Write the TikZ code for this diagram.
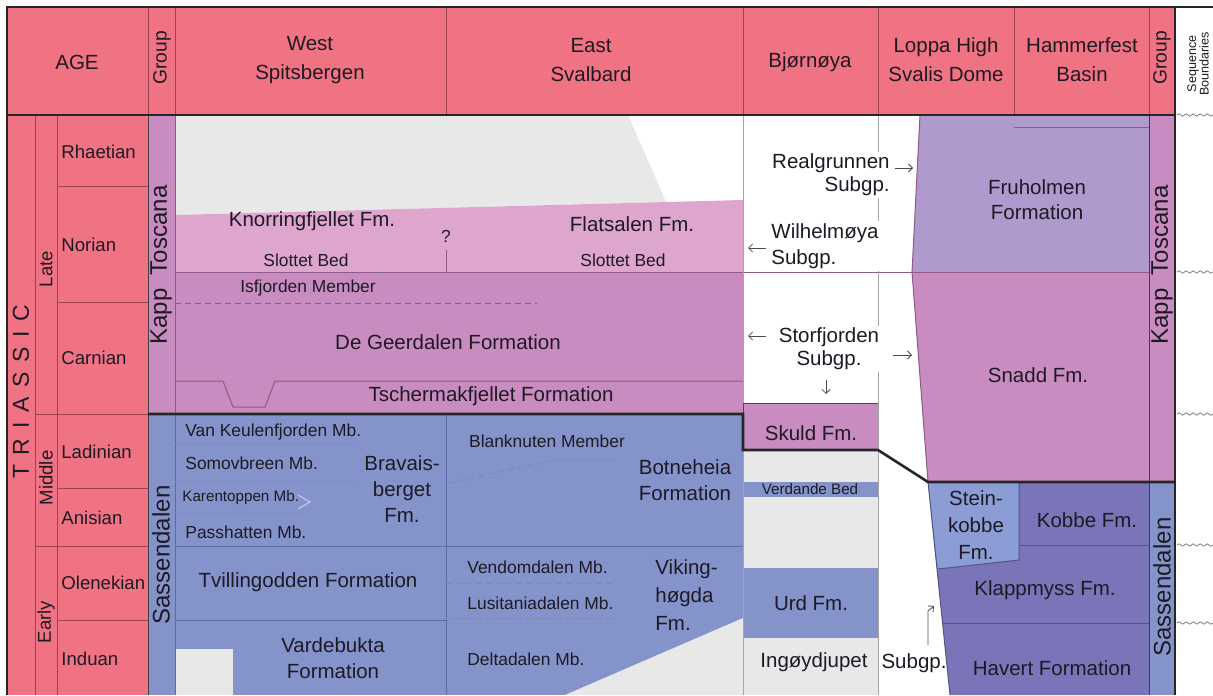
\documentclass[tikz,border=0pt]{standalone}
\usepackage{fontspec}
\setmainfont{Liberation Sans}
\usetikzlibrary{arrows.meta,decorations.pathmorphing}

\definecolor{agepink}{HTML}{F07384}
\definecolor{kapppurple}{HTML}{C98CC1}
\definecolor{norianpink}{HTML}{DEA5CD}
\definecolor{fruhlilac}{HTML}{B09ACD}
\definecolor{sassblue}{HTML}{8593CB}
\definecolor{kobbeblue}{HTML}{7A74B9}
\definecolor{steinblue}{HTML}{8C9DD5}
\definecolor{gapgrey}{HTML}{E8E8E8}
\definecolor{inktext}{HTML}{1E1A24}
\definecolor{agerule}{HTML}{9A4452}
\definecolor{kapprule}{HTML}{8E5A88}
\definecolor{sassrule}{HTML}{5E6AA6}

\tikzset{
	hdr/.style={font=\fontsize{10.25}{14.5}\selectfont, text=inktext, align=center, inner sep=0pt},
	fm/.style={font=\fontsize{10.25}{13}\selectfont, text=inktext, align=center, inner sep=0pt},
	stage/.style={font=\fontsize{9.3}{11}\selectfont, text=inktext, anchor=west, inner sep=0pt},
	mbr/.style={font=\fontsize{8.7}{11}\selectfont, text=inktext, inner sep=0pt},
	grp/.style={font=\fontsize{12}{14}\selectfont, text=inktext, rotate=90, inner sep=0pt},
	series/.style={font=\fontsize{9.3}{11}\selectfont, text=inktext, rotate=90, inner sep=0pt},
	cellrule/.style={line width=0.5pt},
	boundary/.style={line width=1.3pt, draw=black!85},
	mbrdash/.style={line width=0.5pt, dash pattern=on 3pt off 2pt},
	subarrow/.style={line width=0.4pt, draw=black!70, -{Straight Barb[length=2pt,width=4pt]}},
	seqline/.style={draw=black!50, line width=0.4pt, decorate, decoration={snake, amplitude=0.6pt, segment length=3.5pt}},
}

\begin{document}
\begin{tikzpicture}[x=0.5pt, y=-0.5pt]
	\useasboundingbox (0,0) rectangle (1213,695);

	% Header row and age columns
	\fill[agepink] (7,7) rectangle (1175,115);
	\fill[agepink] (7,115) rectangle (148,695);

	% Group columns
	\fill[kapppurple] (148,115) rectangle (175,414);
	\fill[sassblue] (148,414) rectangle (175,695);
	\fill[kapppurple] (1149,115) rectangle (1175,482);
	\fill[sassblue] (1149,482) rectangle (1175,695);

	% West Spitsbergen and East Svalbard
	\fill[gapgrey] (175,115) -- (628,115) -- (666,202) -- (175,215) -- cycle;
	\fill[norianpink] (175,215) -- (743,200) -- (743,272) -- (175,272) -- cycle;
	\fill[kapppurple] (175,272) rectangle (743,414);
	\fill[sassblue] (175,414) rectangle (743,695);
	\fill[gapgrey] (176,649) rectangle (233,695);
	\fill[gapgrey] (565,695) -- (743,618) -- (743,695) -- cycle;

	% Bjornoya
	\fill[kapppurple] (743,403) rectangle (878,450);
	\fill[gapgrey] (743,450) rectangle (878,695);
	\fill[sassblue] (743,482) rectangle (878,497);
	\fill[sassblue] (743,568) rectangle (878,638);

	% Loppa High and Hammerfest Basin
	\fill[fruhlilac] (920,115) -- (1149,115) -- (1149,272) -- (912,272) -- cycle;
	\fill[kapppurple] (912,272) -- (1149,272) -- (1149,482) -- (928,482) -- cycle;
	\fill[kobbeblue] (928,482) -- (1149,482) -- (1149,695) -- (950,695) -- cycle;
	\fill[steinblue] (928,482) -- (1019,482) -- (1019,560) -- (938,569) -- cycle;

	% Rules in the header
	\draw[cellrule, agerule] (148,7) -- (148,115);
	\draw[cellrule, agerule] (175,7) -- (175,115);
	\draw[cellrule, agerule] (446,7) -- (446,115);
	\draw[cellrule, agerule] (743,7) -- (743,115);
	\draw[cellrule, agerule] (878,7) -- (878,115);
	\draw[cellrule, agerule] (1014,7) -- (1014,115);
	\draw[cellrule, agerule] (1149,7) -- (1149,115);

	% Rules in the age columns
	\draw[cellrule, agerule] (35,115) -- (35,695);
	\draw[cellrule, agerule] (57,115) -- (57,695);
	\draw[cellrule, agerule] (57,187) -- (148,187);
	\draw[cellrule, agerule] (57,302) -- (148,302);
	\draw[cellrule, agerule] (35,414) -- (148,414);
	\draw[cellrule, agerule] (57,488) -- (148,488);
	\draw[cellrule, agerule] (35,546) -- (148,546);
	\draw[cellrule, agerule] (57,620) -- (148,620);
	\draw[cellrule, black!75] (148,115) -- (148,695);
	\draw[cellrule, kapprule] (175,115) -- (175,414);
	\draw[cellrule, sassrule] (175,414) -- (175,695);

	% Kapp Toscana rules
	\draw[cellrule, kapprule] (175,272) -- (1149,272);
	\draw[cellrule, kapprule] (446,250) -- (446,272);
	\draw[mbrdash, kapprule] (175,303) -- (537,303);
	\draw[cellrule, kapprule] (175,381) -- (223,381) -- (233,407) -- (265,407) -- (275,381) -- (743,381);
	\draw[cellrule, black!70] (743,403) -- (878,403);
	\draw[cellrule, black!70] (743,403) -- (743,414);

	% Sassendalen rules
	\draw[cellrule, sassrule] (446,414) -- (446,695);
	\draw[cellrule, sassrule] (175,546) -- (743,546);
	\draw[cellrule, sassrule] (175,620) -- (446,620);
	\draw[mbrdash, sassrule!80] (175,443) -- (358,443);
	\draw[mbrdash, sassrule!80] (175,481) -- (355,481);
	\draw[mbrdash, sassrule!80] (175,513) -- (300,513);
	\draw[cellrule, white!55!sassblue] (298,495) -- (310,502) -- (298,509);
	\draw[mbrdash, sassrule!80] (449,483) -- (555,460) -- (612,460);
	\draw[mbrdash, sassrule!80] (446,583) -- (613,583);
	\draw[mbrdash, sassrule!80] (446,618) -- (615,618);

	% Column rules in Bjornoya, Loppa High and Hammerfest Basin
	\draw[cellrule, black!35] (743,115) -- (743,403);
	\draw[cellrule, black!35] (743,450) -- (743,695);
	\draw[cellrule, black!35] (878,115) -- (878,695);
	\draw[cellrule, kapprule] (920,115) -- (912,272) -- (928,482);
	\draw[cellrule, kobbeblue!70!black] (928,482) -- (950,695);
	\draw[cellrule, kapprule] (1014,128) -- (1149,128);
	\draw[cellrule, kobbeblue!70!black] (1019,482) -- (1019,560) -- (938,569);
	\draw[cellrule, kobbeblue!70!black] (1019,545) -- (1149,545);
	\draw[cellrule, kobbeblue!70!black] (942,623) -- (1149,623);
	\draw[cellrule, black!75] (1149,115) -- (1149,695);

	% Base of Kapp Toscana
	\draw[boundary] (148,414) -- (743,414) -- (743,450) -- (878,450) -- (928,482) -- (1175,482);

	% Frame
	\draw[line width=1pt, black!85] (7,695) -- (7,7) -- (1213,7);
	\draw[line width=1pt, black!85] (1175,7) -- (1175,695);
	\draw[line width=1pt, black!85] (7,115) -- (1175,115);

	% Sequence boundaries
	\draw[seqline] (1177,115) -- (1213,115);
	\draw[seqline] (1177,272) -- (1213,272);
	\draw[seqline] (1177,414) -- (1213,414);
	\draw[seqline] (1177,545) -- (1213,545);
	\draw[seqline] (1177,623) -- (1213,623);

	% Header labels
	\node[hdr] (age) at (77,62) {AGE};
	\node[hdr, rotate=90, font=\fontsize{9.6}{11}\selectfont] (groupL) at (162,58) {Group};
	\node[hdr] (westspits) at (310,60) {West\\Spitsbergen};
	\node[hdr] (eastsval) at (591,60) {East\\Svalbard};
	\node[hdr] (bjornoya) at (810,62) {Bjørnøya};
	\node[hdr] (loppa) at (946,60) {Loppa High\\Svalis Dome};
	\node[hdr] (hammerfest) at (1082,60) {Hammerfest\\Basin};
	\node[hdr, rotate=90, font=\fontsize{9.6}{11}\selectfont] (groupR) at (1162,58) {Group};
	\node[hdr, rotate=90, font=\fontsize{6.3}{6.3}\selectfont] (seqb) at (1198,64) {Sequence\\Boundaries};

	% Age labels
	\node[grp, font=\fontsize{11.5}{13}\selectfont] (triassic) at (21,392) {T\kern.42em R\kern.42em I\kern.42em A\kern.42em S\kern.42em S\kern.42em I\kern.42em C};
	\node[series] (late) at (46,269) {Late};
	\node[series] (middle) at (46,478) {Middle};
	\node[series] (early) at (46,622) {Early};
	\node[stage] (rhaetian) at (61,152) {Rhaetian};
	\node[stage] (norian) at (61,245) {Norian};
	\node[stage] (carnian) at (61,358) {Carnian};
	\node[stage] (ladinian) at (61,452) {Ladinian};
	\node[stage] (anisian) at (61,518) {Anisian};
	\node[stage] (olenekian) at (61,583) {Olenekian};
	\node[stage] (induan) at (61,659) {Induan};

	% Group labels
	\node[grp] (kappL) at (161,265) {Kapp\ \ Toscana};
	\node[grp] (sassL) at (161,555) {Sassendalen};
	\node[grp] (kappR) at (1162,265) {Kapp\ \ Toscana};
	\node[grp] (sassR) at (1162,587) {Sassendalen};

	% West Spitsbergen and East Svalbard labels
	\node[fm] (knorring) at (312,221) {Knorringfjellet Fm.};
	\node[mbr] (query) at (446,236) {?};
	\node[fm] (flatsalen) at (632,224) {Flatsalen Fm.};
	\node[mbr] (slottetW) at (306,260) {Slottet Bed};
	\node[mbr] (slottetE) at (623,260) {Slottet Bed};
	\node[mbr] (isfjorden) at (308,288) {Isfjorden Member};
	\node[fm] (degeer) at (448,342) {De Geerdalen Formation};
	\node[fm] (tscherm) at (491,396) {Tschermakfjellet Formation};
	\node[mbr, anchor=west] (vankeul) at (185,432) {Van Keulenfjorden Mb.};
	\node[mbr, anchor=west] (somov) at (185,463) {Somovbreen Mb.};
	\node[mbr, anchor=west, font=\fontsize{7.6}{9}\selectfont] (karen) at (182,498) {Karentoppen Mb.};
	\node[mbr, anchor=west] (passh) at (185,532) {Passhatten Mb.};
	\node[fm] (bravais) at (402,489) {Bravais-\\berget\\Fm.};
	\node[fm] (tvilling) at (308,582) {Tvillingodden Formation};
	\node[fm] (vardeb) at (333,658) {Vardebukta\\Formation};
	\node[mbr] (blank) at (547,441) {Blanknuten Member};
	\node[fm] (botneh) at (685,480) {Botneheia\\Formation};
	\node[mbr, anchor=west] (vendom) at (467,567) {Vendomdalen Mb.};
	\node[mbr, anchor=west] (lusit) at (467,603) {Lusitaniadalen Mb.};
	\node[mbr, anchor=west] (deltad) at (467,659) {Deltadalen Mb.};
	\node[fm, anchor=west, align=left, font=\fontsize{10.25}{14}\selectfont] (vikingh) at (655,595) {Viking-\\høgda\\Fm.};

	% Bjornoya labels
	\node[fm, anchor=east, align=right, fill=white, inner sep=1pt, font=\fontsize{10.25}{11.5}\selectfont] (realg) at (892,175) {Realgrunnen\\Subgp.};
	\node[fm, anchor=west, align=left, fill=white, inner sep=1pt, font=\fontsize{10.25}{13}\selectfont] (wilhelm) at (769,246) {Wilhelmøya\\Subgp.};
	\node[fm, fill=white, inner sep=1pt, font=\fontsize{10.25}{11.5}\selectfont] (storf) at (829,349) {Storfjorden\\Subgp.};
	\node[fm] (skuld) at (811,433) {Skuld Fm.};
	\node[mbr, font=\fontsize{7.6}{9}\selectfont] (verdande) at (810,489) {Verdande Bed};
	\node[fm] (urd) at (811,603) {Urd Fm.};
	\node[fm] (ingoy) at (814,662) {Ingøydjupet};
	\node[fm] (ingoysub) at (914,663) {Subgp.};

	% Loppa High and Hammerfest Basin labels
	\node[fm, font=\fontsize{10.25}{12.5}\selectfont] (fruholmen) at (1037,200) {Fruholmen\\Formation};
	\node[fm] (snadd) at (1038,375) {Snadd Fm.};
	\node[fm, font=\fontsize{10.25}{13.7}\selectfont] (steinkob) at (976,525) {Stein-\\kobbe\\Fm.};
	\node[fm] (kobbe) at (1087,520) {Kobbe Fm.};
	\node[fm] (klappmyss) at (1045,590) {Klappmyss Fm.};
	\node[fm] (havert) at (1052,668) {Havert Formation};

	% Subgroup arrows
	\coordinate (realgA) at (895,168);
	\coordinate (realgB) at (913,168);
	\coordinate (wilhA) at (766,248);
	\coordinate (wilhB) at (748,248);
	\coordinate (storfA) at (766,336);
	\coordinate (storfB) at (748,336);
	\coordinate (storfC) at (826,380);
	\coordinate (storfD) at (826,394);
	\coordinate (storfE) at (893,355);
	\coordinate (storfF) at (912,355);
	\coordinate (ingoyA) at (928,645);
	\coordinate (ingoyB) at (928,611);
	\coordinate (ingoyC) at (934,606);

	\draw[subarrow] (realgA) -- (realgB);
	\draw[subarrow] (wilhA) -- (wilhB);
	\draw[subarrow] (storfA) -- (storfB);
	\draw[subarrow] (storfC) -- (storfD);
	\draw[subarrow] (storfE) -- (storfF);
	\draw[subarrow] (ingoyA) -- (ingoyB) -- (ingoyC);

\end{tikzpicture}
\end{document}
